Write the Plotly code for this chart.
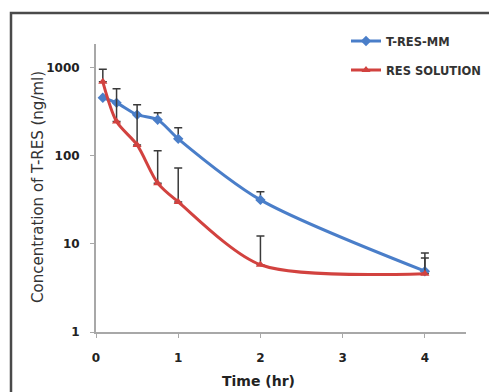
import plotly.graph_objects as go

time_hr = [0.083, 0.25, 0.5, 0.75, 1, 2, 4]
tres_mm = [457, 400, 293, 257, 156, 31.6, 4.9]
tres_mm_err = [0, 0, 0, 52, 52, 7.4, 3.0]
res_solution = [692, 245, 133, 49, 30, 5.8, 4.6]
res_solution_err = [268, 333, 247, 65, 43, 6.5, 2.3]

x_ticks = [0, 1, 2, 3, 4]
y_ticks = [1, 10, 100, 1000]
y_ticklabels = ["1", "10", "100", "1000"]

BLUE = "#4a7ec9"
RED = "#d2423f"
ERR = "#3a3a3a"
AXIS = "#a8a8a8"
TXT = "#222222"

W, H = 489, 392
L, R, T, B = 96, 23, 44, 60
PW, PH = W - L - R, H - T - B


def px_x(px):
    return (px - L) / PW


def px_y(py):
    return (H - B - py) / PH


fig = go.Figure()
fig.add_trace(go.Scatter(
    x=time_hr, y=tres_mm, name="T-RES-MM", mode="lines+markers",
    line=dict(color=BLUE, width=3, shape="spline", smoothing=0.8),
    marker=dict(symbol="diamond", size=8, color=BLUE),
    error_y=dict(type="data", symmetric=False, array=tres_mm_err,
                 arrayminus=[0] * len(time_hr), color=ERR, thickness=1.5, width=4),
    legend="legend",
))
fig.add_trace(go.Scatter(
    x=time_hr, y=res_solution, name="RES SOLUTION", mode="lines+markers",
    line=dict(color=RED, width=3, shape="spline", smoothing=0.8),
    marker=dict(symbol="triangle-up", size=8, color=RED),
    error_y=dict(type="data", symmetric=False, array=res_solution_err,
                 arrayminus=[0] * len(time_hr), color=ERR, thickness=1.5, width=4),
    legend="legend2",
))

tick_font = dict(family="DejaVu Sans", size=12, color=TXT, weight="bold")
leg_font = dict(family="DejaVu Sans", size=11.5, color="#333333", weight="bold")

fig.update_layout(
    width=W, height=H,
    margin=dict(l=L, r=R, t=T, b=B, autoexpand=False),
    paper_bgcolor="white", plot_bgcolor="white",
    showlegend=True,
    legend=dict(x=px_x(346), y=px_y(41), xanchor="left", yanchor="middle",
                font=leg_font, bgcolor="rgba(0,0,0,0)", borderwidth=0),
    legend2=dict(x=px_x(346), y=px_y(70), xanchor="left", yanchor="middle",
                 font=leg_font, bgcolor="rgba(0,0,0,0)", borderwidth=0),
    xaxis=dict(range=[0, 4.5], tickvals=x_ticks, showline=True, linecolor=AXIS,
               linewidth=2, ticks="outside", ticklen=4, tickcolor=AXIS, tickwidth=1,
               showgrid=False, zeroline=False, tickfont=tick_font,
               ticklabelstandoff=10),
    yaxis=dict(type="log", range=[0, 3.27], tickvals=y_ticks, ticktext=y_ticklabels,
               showline=True, linecolor=AXIS, linewidth=2, ticks="outside",
               ticklen=4, tickcolor=AXIS, tickwidth=1, showgrid=False,
               zeroline=False, tickfont=tick_font, ticklabelstandoff=8),
    annotations=[
        dict(text="Time (hr)", x=px_x(258), y=px_y(381), xref="paper", yref="paper",
             showarrow=False, xanchor="center", yanchor="middle",
             font=dict(family="DejaVu Sans", size=14, color=TXT, weight="bold")),
        dict(text="Concentration of T-RES (ng/ml)", x=px_x(38), y=px_y(187),
             xref="paper", yref="paper", showarrow=False, textangle=-90,
             xanchor="center", yanchor="middle",
             font=dict(family="DejaVu Sans", size=15, color="#333333")),
    ],
    shapes=[
        dict(type="path", xref="paper", yref="paper",
             path=f"M {px_x(11)} {px_y(420)} L {px_x(11)} {px_y(13)} L {px_x(520)} {px_y(13)}",
             line=dict(color="#4a4a4a", width=2.5)),
    ],
)

fig.write_html("out.html", config={"displayModeBar": False},
               post_script="document.body.style.margin='0';document.body.style.overflow='hidden';")
